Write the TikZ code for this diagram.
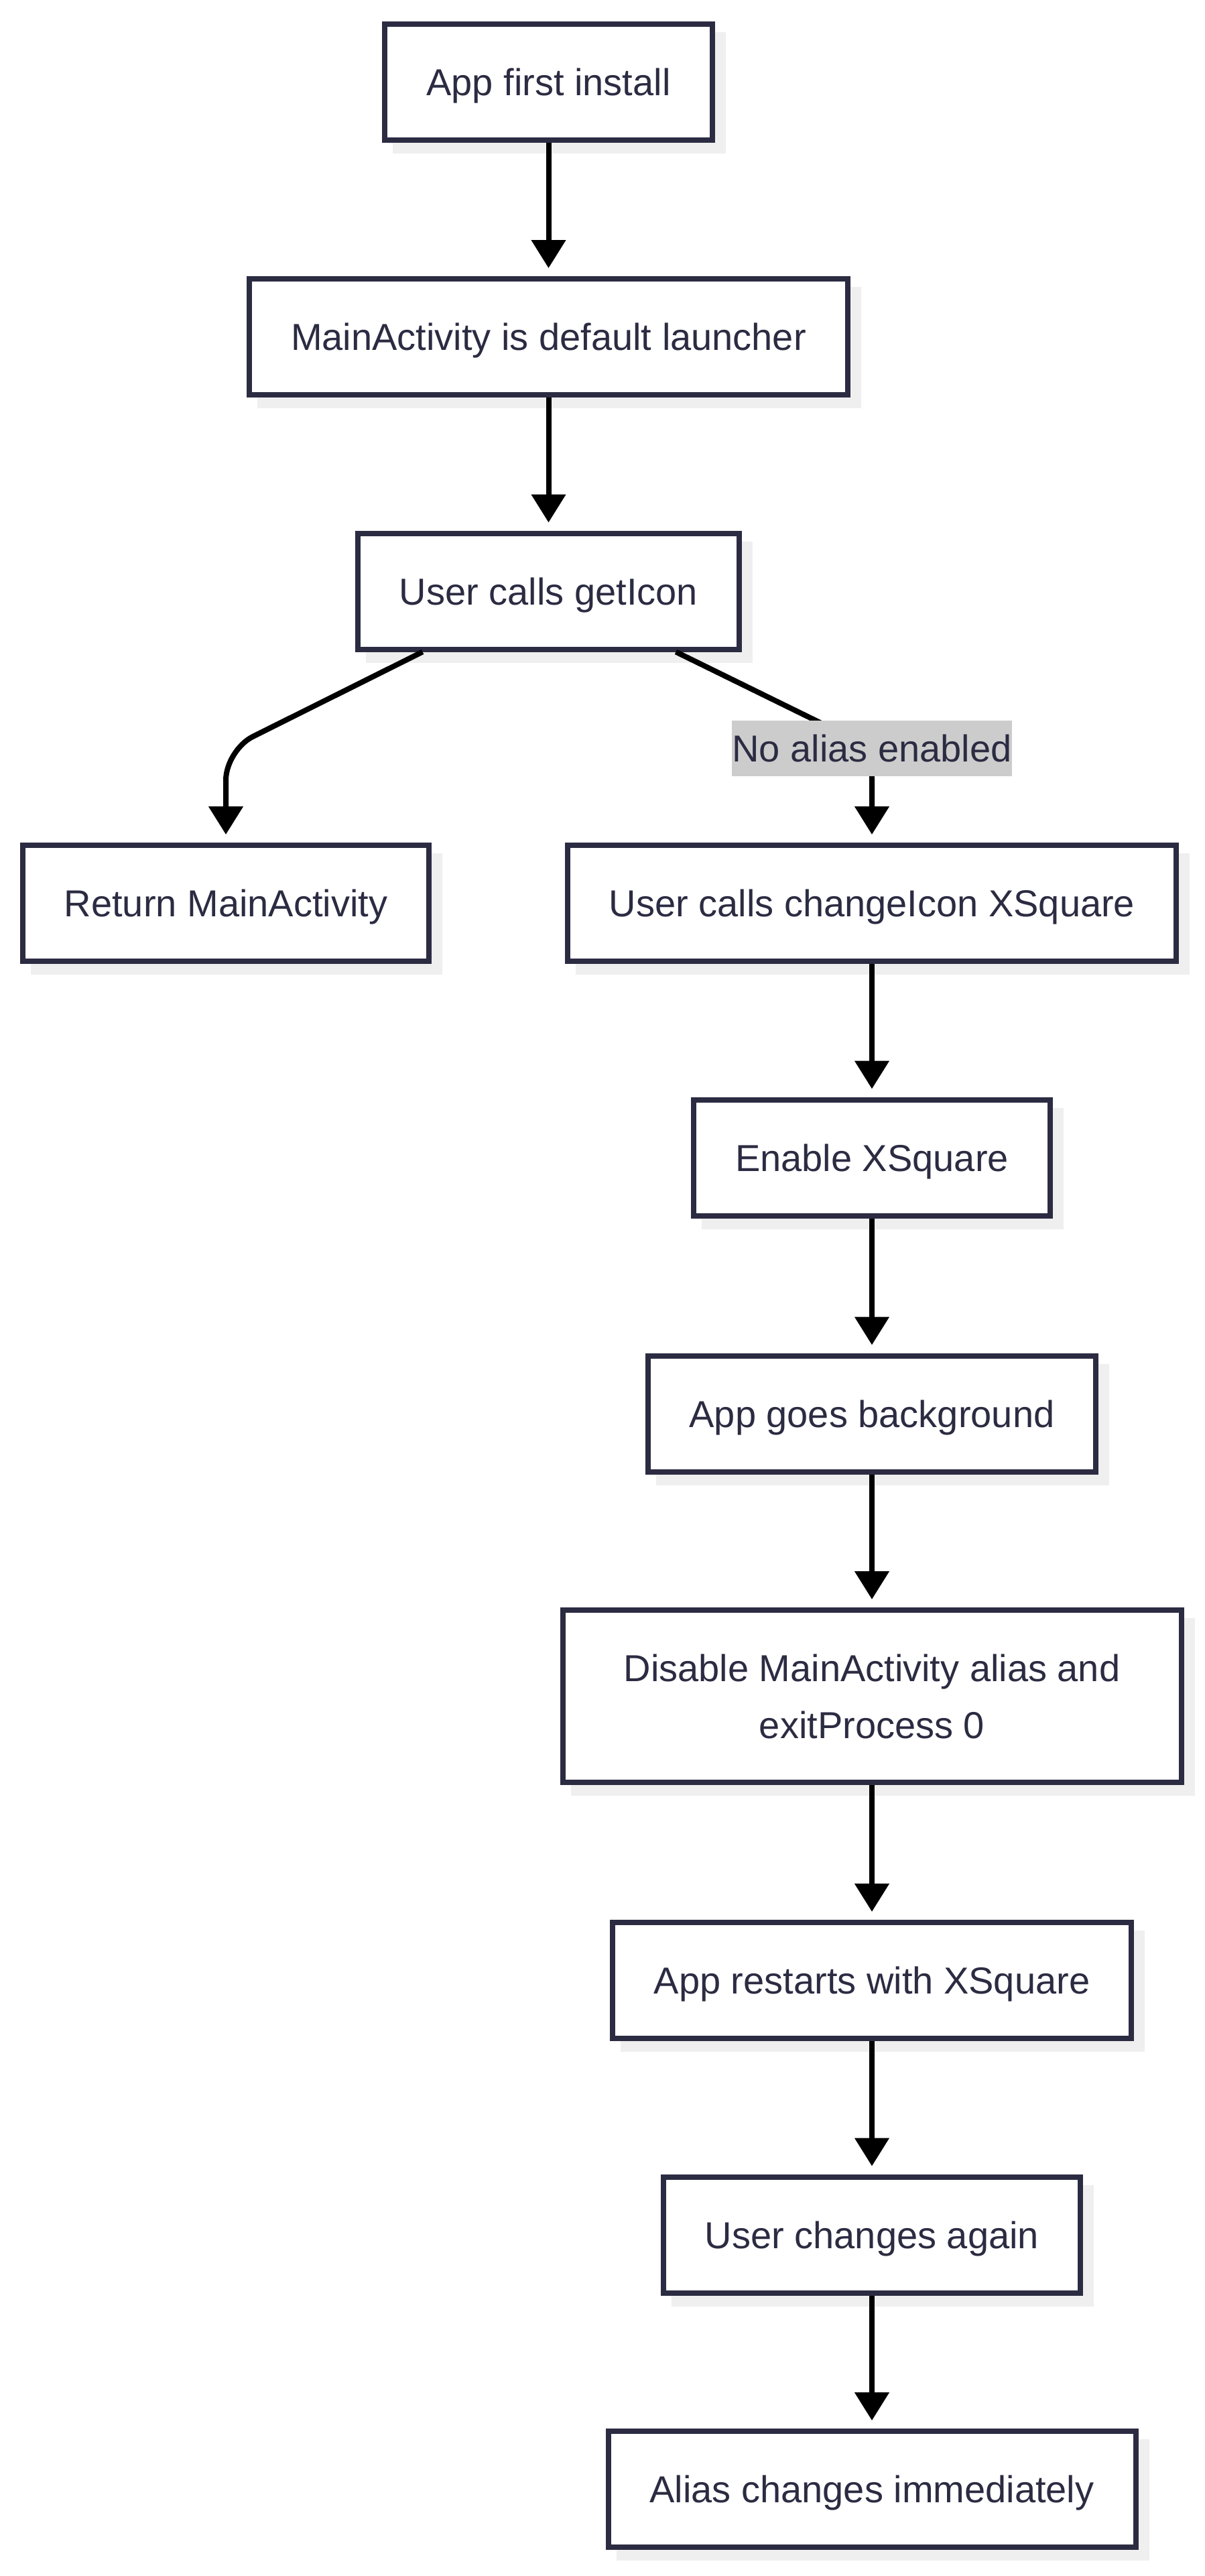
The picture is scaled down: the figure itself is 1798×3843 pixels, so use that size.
\documentclass[tikz,border=0pt]{standalone}
\usepackage{fontspec}
\setmainfont{Liberation Sans}
\usetikzlibrary{arrows.meta,shadows,calc}
\definecolor{ink}{HTML}{2B2B42}
\definecolor{shgray}{HTML}{EFEFEF}
\definecolor{lblgray}{HTML}{CCCCCC}
\begin{document}
\begin{tikzpicture}[x=1pt,y=-1pt,
  boxbase/.style={draw=ink, line width=8pt, fill=white, text=ink,
    inner xsep=62pt, inner ysep=0pt,
    font=\fontsize{56}{85}\selectfont,
    general shadow={draw=shgray, fill=shgray, line width=8pt, shadow xshift=16pt, shadow yshift=-16pt}},
  box/.style={boxbase, minimum height=173pt, text height=40pt, text depth=0pt},
  arr/.style={draw=black, line width=8pt, -{Triangle[length=42pt,width=50pt]}, shorten >=12pt},
  lbl/.style={fill=lblgray, text=ink, inner sep=0pt, minimum height=83pt,
    text height=40pt, text depth=0pt, font=\fontsize{56}{85}\selectfont}]
\useasboundingbox (0,0) rectangle (1798,3843);

\node[box] (n1) at (818.5,122.5) {App first install};
\node[box] (n2) at (818.5,502.5) {MainActivity is default launcher};
\node[box] (n3) at (818.5,882) {User calls getIcon};
\node[box] (n4) at (337,1347.5) {Return MainActivity};
\node[box] (n5) at (1301,1347.5) {User calls changeIcon XSquare};
\node[box] (n6) at (1301,1727) {Enable XSquare};
\node[box] (n7) at (1301,2109) {App goes background};
\node[boxbase, minimum height=257pt, minimum width=923pt, align=center] (n8) at (1301,2530.5) {Disable MainActivity alias and\\exitProcess 0};
\node[box] (n9) at (1301,2954.5) {App restarts with XSquare};
\node[box] (n10) at (1301,3334) {User changes again};
\node[box] (n11) at (1301,3713.5) {Alias changes immediately};

\coordinate (c1) at (337,1119);
\coordinate (c2) at (1301,1116);

\draw[arr] (n1.south) -- (n2.north);
\draw[arr] (n2.south) -- (n3.north);
\draw[arr, rounded corners=45pt] ($(n3.south)+(-188,0)$) -- (c1) -- (n4.north);
\draw[arr, rounded corners=45pt] ($(n3.south)+(190,0)$) -- (c2) -- (n5.north);
\node[lbl] (l1) at (c2) {No alias enabled};
\draw[arr] (n5.south) -- (n6.north);
\draw[arr] (n6.south) -- (n7.north);
\draw[arr] (n7.south) -- (n8.north);
\draw[arr] (n8.south) -- (n9.north);
\draw[arr] (n9.south) -- (n10.north);
\draw[arr] (n10.south) -- (n11.north);
\end{tikzpicture}
\end{document}
